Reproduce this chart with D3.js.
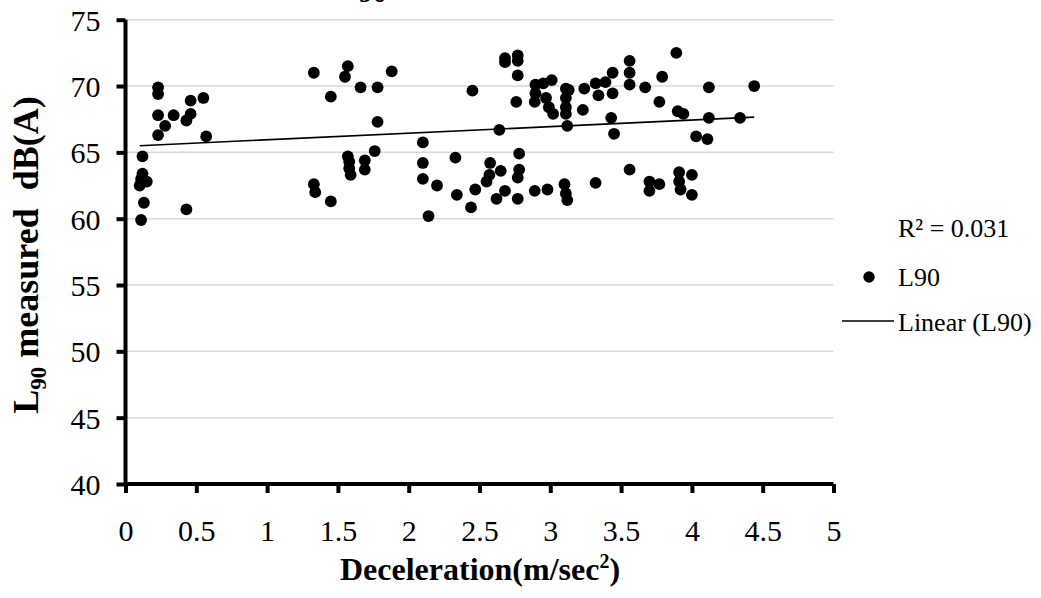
<!DOCTYPE html>
<html>
<head>
<meta charset="utf-8">
<script src="https://cdn.jsdelivr.net/npm/d3@7"></script>
<style>
  html, body { margin: 0; padding: 0; background: #fff; }
  svg { display: block; }
  text { font-family: "Liberation Serif", "Times New Roman", serif; fill: #000; }
</style>
</head>
<body>
<svg id="chart" width="1041" height="598"></svg>
<script>
// Deceleration (m/sec²) of each measured event
const decel = [
  0.11, 0.13, 0.10, 0.15, 0.11, 0.12, 0.12, 0.23, 0.23, 0.23,
  0.23, 0.28, 0.34, 0.43, 0.46, 0.46, 0.55, 0.57, 0.43,
  1.33, 1.33, 1.34, 1.45, 1.45, 1.57, 1.55, 1.57, 1.58, 1.58,
  1.59, 1.66, 1.69, 1.69, 1.76, 1.78, 1.78, 1.88, 2.10, 2.10,
  2.10, 2.14, 2.20,
  2.33, 2.34, 2.44, 2.45, 2.47, 2.55, 2.575, 2.65, 2.57, 2.62,
  2.68, 2.64, 2.68, 2.68, 2.77, 2.77, 2.77, 2.76, 2.78, 2.78,
  2.77, 2.77, 2.89, 2.98, 2.895, 2.895, 2.89, 2.95, 3.01, 2.97,
  2.99, 3.02, 3.11, 3.13, 3.11, 3.11, 3.11, 3.12, 3.24, 3.23,
  3.32, 3.34, 3.10, 3.11, 3.12, 3.32,
  3.39, 3.44, 3.44, 3.43, 3.45, 3.56, 3.56, 3.56, 3.56, 3.67,
  3.70, 3.70, 3.77, 3.77, 3.79, 3.89, 3.90, 3.94, 3.91, 3.91,
  3.92, 4.00, 4.00, 4.03, 4.11, 4.12, 4.12, 4.34, 4.44
];

// Measured L90 level, dB(A), same order as decel
const l90 = [
  59.9, 61.2, 62.5, 62.8, 63.0, 63.4, 64.7, 69.9, 69.4, 67.8,
  66.3, 67.0, 67.8, 67.4, 67.9, 68.9, 69.1, 66.2, 60.7,
  71.0, 62.6, 62.0, 69.2, 61.3, 71.5, 70.7, 64.7, 64.3, 63.8,
  63.3, 69.9, 64.4, 63.7, 65.1, 69.9, 67.3, 71.1, 65.75, 64.2,
  63.0, 60.2, 62.5,
  64.6, 61.8, 60.85, 69.65, 62.2, 62.8, 64.2, 63.6, 63.3, 61.5,
  62.1, 66.7, 72.1, 71.8, 72.3, 71.9, 70.8, 68.8, 64.9, 63.7,
  63.1, 61.5, 62.1, 62.2, 70.1, 69.45, 68.8, 70.2, 70.45, 69.1,
  68.4, 67.9, 69.8, 69.7, 69.1, 68.4, 67.9, 67.0, 69.8, 68.2,
  70.2, 69.3, 62.6, 61.9, 61.4, 62.7,
  70.3, 71.0, 69.45, 67.6, 66.4, 71.9, 71.0, 70.1, 63.7, 69.9,
  62.8, 62.1, 62.6, 68.8, 70.7, 72.5, 68.1, 67.9, 63.5, 62.8,
  62.2, 63.3, 61.8, 66.2, 66.0, 69.9, 67.6, 67.6, 70.0
];

const xTicks = [0, 0.5, 1, 1.5, 2, 2.5, 3, 3.5, 4, 4.5, 5];
const yTicks = [40, 45, 50, 55, 60, 65, 70, 75];

// Linear trendline coefficients (L90 = slope * decel + intercept)
const trendSlope = 0.496;
const trendIntercept = 65.45;
const rSquaredLabel = "R² = 0.031";
const seriesName = "L90";
const trendName = "Linear (L90)";

const points = decel.map((d, i) => ({ x: d, y: l90[i] }));
const xExtent = d3.extent(decel);
const trend = xExtent.map(x => ({ x, y: trendIntercept + trendSlope * x }));

const svg = d3.select("#chart");
const x = d3.scaleLinear().domain([0, 5]).range([125.5, 833.5]);
const y = d3.scaleLinear().domain([40, 75]).range([484, 19.7]);

// Horizontal gridlines
svg.append("g")
  .selectAll("line")
  .data(yTicks.filter(t => t > 40))
  .join("line")
  .attr("x1", x(0)).attr("x2", x(5))
  .attr("y1", d => y(d)).attr("y2", d => y(d))
  .attr("stroke", "#d9d9d9")
  .attr("stroke-width", 1.5);

// Trendline
svg.append("line")
  .attr("x1", x(trend[0].x)).attr("y1", y(trend[0].y))
  .attr("x2", x(trend[1].x)).attr("y2", y(trend[1].y))
  .attr("stroke", "#000")
  .attr("stroke-width", 1.6);

// Data points
svg.append("g")
  .selectAll("circle")
  .data(points)
  .join("circle")
  .attr("cx", d => x(d.x))
  .attr("cy", d => y(d.y))
  .attr("r", 5.9)
  .attr("fill", "#000");

// Axes
const xAxis = d3.axisBottom(x).tickValues(xTicks).tickSize(9).tickFormat(d3.format("~g"));
const yAxis = d3.axisLeft(y).tickValues(yTicks).tickSize(9).tickFormat(d3.format("d"));

const gx = svg.append("g").attr("transform", `translate(0,${y(40)})`).call(xAxis);
const gy = svg.append("g").attr("transform", `translate(${x(0)},0)`).call(yAxis);

[gx, gy].forEach(g => {
  g.attr("font-family", null).attr("font-size", null);
  g.select(".domain").attr("stroke", "#000").attr("stroke-width", 4);
  g.selectAll(".tick line").attr("stroke", "#000").attr("stroke-width", 4);
  g.selectAll(".tick text")
    .style("font-family", "'Liberation Serif', 'Times New Roman', serif")
    .style("font-size", "30px")
    .attr("fill", "#000");
});
gx.select(".domain").attr("d", `M${x(0)},0H${x(5)}`);
gy.select(".domain").attr("d", `M0,${y(40)}V${y(75)}`);
gx.selectAll(".tick text").attr("dy", 0).attr("y", 57);
gy.selectAll(".tick text").attr("x", -25).attr("dy", "0.35em");

// Axis titles
const xTitle = svg.append("text")
  .attr("x", 480).attr("y", 580)
  .attr("text-anchor", "middle")
  .attr("font-size", 32).attr("font-weight", "bold");
xTitle.append("tspan").text("Deceleration(m/sec");
xTitle.append("tspan").attr("font-size", 20).attr("dy", -12).text("2");
xTitle.append("tspan").attr("dy", 12).text(")");

const yTitle = svg.append("text")
  .attr("transform", `translate(38,255) rotate(-90)`)
  .attr("text-anchor", "middle")
  .attr("font-size", 36).attr("font-weight", "bold");
yTitle.append("tspan").text("L");
yTitle.append("tspan").attr("font-size", 23).attr("dy", 8).text("90");
yTitle.append("tspan").attr("dy", -8).attr("xml:space", "preserve").text(" measured  dB(A)");

// Chart title, mostly above the visible area
const title = svg.append("text")
  .attr("x", 332).attr("y", -9)
  .attr("font-size", 40).attr("font-weight", "bold");
title.append("tspan").text("L");
title.append("tspan").attr("font-size", 28).attr("dy", 11).text("90");

// Legend
const lg = svg.append("g");
lg.append("text").attr("x", 898).attr("y", 237).attr("font-size", 26).text(rSquaredLabel);
lg.append("circle").attr("cx", 869).attr("cy", 277).attr("r", 5.7).attr("fill", "#000");
lg.append("text").attr("x", 898).attr("y", 286).attr("font-size", 26).text(seriesName);
lg.append("line").attr("x1", 842).attr("x2", 894).attr("y1", 321).attr("y2", 321)
  .attr("stroke", "#000").attr("stroke-width", 1.6);
lg.append("text").attr("x", 898).attr("y", 331).attr("font-size", 26).text(trendName);
</script>
</body>
</html>
